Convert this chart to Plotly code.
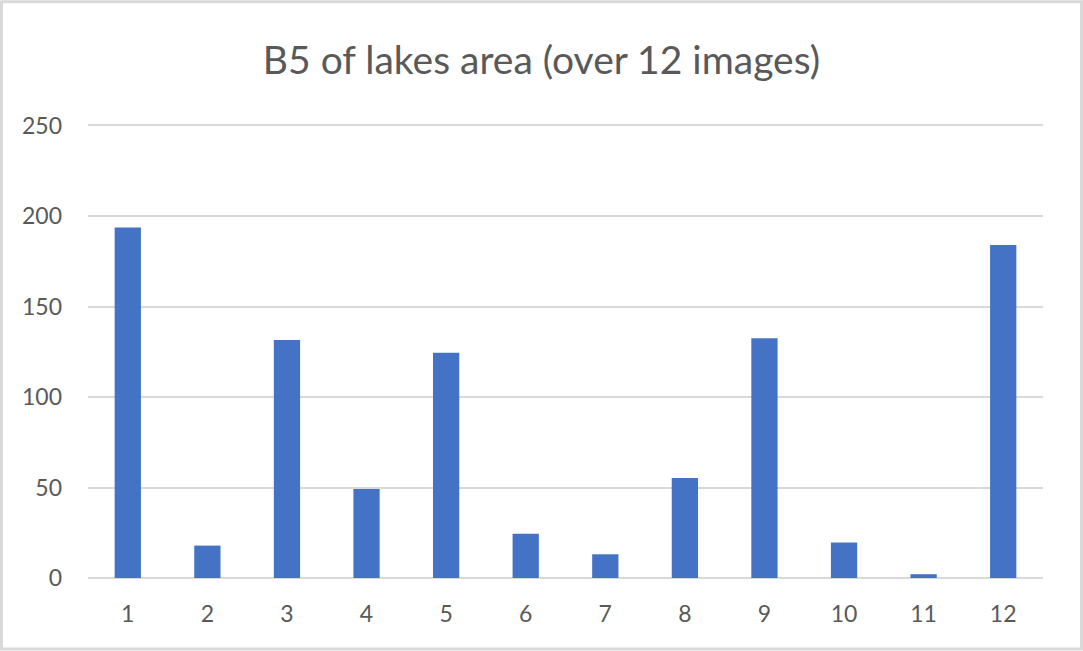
import plotly.graph_objects as go

categories = ["1", "2", "3", "4", "5", "6", "7", "8", "9", "10", "11", "12"]
values = [193.7, 17.9, 131.5, 49.2, 124.4, 24.4, 13.1, 55.3, 132.5, 19.6, 2.1, 184.0]
y_ticks = [0, 50, 100, 150, 200, 250]

W, H = 1083, 651
ml, mr, mt, mb = 88, 40, 120, 72.5
pw = W - ml - mr
ph = H - mt - mb
k = (H - mb - 125.5) / 250.0  # pixels per unit
ymax = ph / k

fig = go.Figure(go.Bar(x=categories, y=values, marker=dict(color="#4472C4", line=dict(width=0))))

def px_x(p):
    return (p - ml) / pw

def px_y(p):
    return (H - mb - p) / ph

fig.update_layout(
    width=W, height=H,
    margin=dict(l=ml, r=mr, t=mt, b=mb),
    paper_bgcolor="white", plot_bgcolor="white",
    bargap=0.67,
    showlegend=False,
    font=dict(family="Lato, Carlito, Calibri, sans-serif", color="#595959"),
    title=dict(text="B5 of lakes area (over 12 images)", x=0.5, xanchor="center",
               y=1 - 60 / H, yanchor="middle", font=dict(size=39, color="#595959")),
    xaxis=dict(type="category", showgrid=False, showline=False, ticks="",
               tickfont=dict(size=23, color="#595959"), ticklabelstandoff=20),
    yaxis=dict(range=[0, ymax], tickvals=y_ticks, showgrid=True, gridcolor="#d9d9d9", gridwidth=1.8,
               zeroline=True, zerolinecolor="#d9d9d9", zerolinewidth=1.8, showline=False, ticks="",
               tickfont=dict(size=23, color="#595959"), ticklabelstandoff=25),
    shapes=[dict(type="rect", xref="paper", yref="paper",
                 x0=px_x(1.5), x1=px_x(W - 1.5), y0=px_y(H - 1.5), y1=px_y(1.5),
                 line=dict(color="#d9d9d9", width=3), layer="below")],
)

fig.write_html("out.html", config={"displayModeBar": False},
               post_script="document.body.style.margin='0';document.body.style.overflow='hidden';")
